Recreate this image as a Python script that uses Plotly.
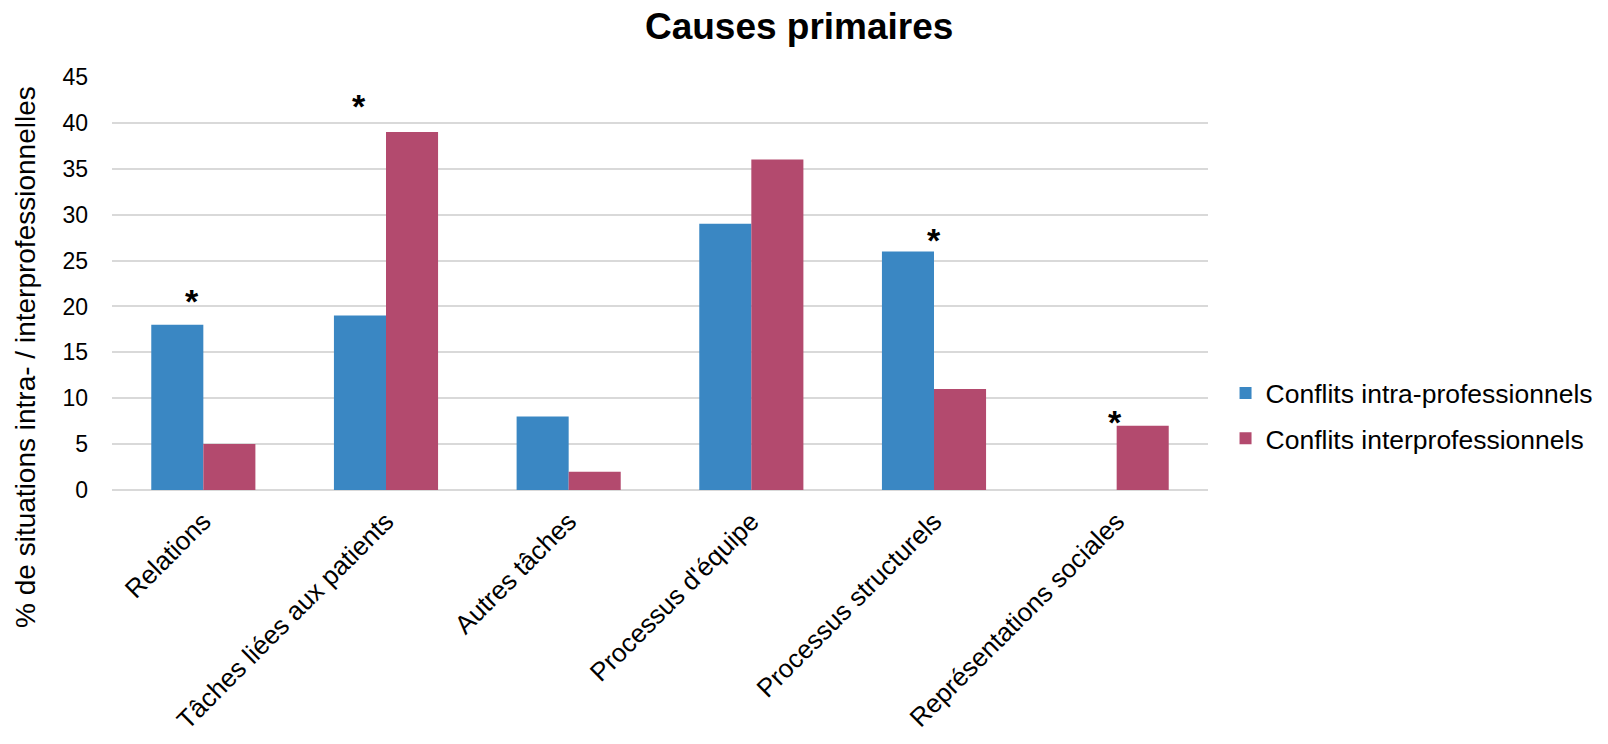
import plotly.graph_objects as go

categories = [
    "Relations",
    "Tâches liées aux patients",
    "Autres tâches",
    "Processus d'équipe",
    "Processus structurels",
    "Représentations sociales",
]
intra = [18, 19, 8, 29, 26, 0]
inter = [5, 39, 2, 36, 11, 7]

# significance markers: category, height (axis units), horizontal nudge (px)
star_cats = ["Relations", "Tâches liées aux patients", "Processus structurels", "Représentations sociales"]
star_y = [21.5, 42.7, 28.1, 8.3]
star_shift = [-11, -27, 0, -2]

y_ticks = [0, 5, 10, 15, 20, 25, 30, 35, 40, 45]

FONT = "Liberation Sans, Arial, sans-serif"
BLUE = "#3a87c3"
MAGENTA = "#b34a6e"

fig = go.Figure()
fig.add_trace(go.Bar(
    x=categories, y=intra, name="Conflits intra-professionnels",
    legendgroup="intra",
    marker=dict(color=BLUE, line=dict(width=0)),
))
fig.add_trace(go.Bar(
    x=categories, y=inter, name="Conflits interprofessionnels",
    legendgroup="inter",
    marker=dict(color=MAGENTA, line=dict(width=0)),
))

for c, yv, dx in zip(star_cats, star_y, star_shift):
    fig.add_annotation(
        x=c, y=yv, text="<b>*</b>", showarrow=False, xshift=dx, yshift=-8,
        font=dict(family=FONT, size=34, color="#000000"),
        xanchor="center", yanchor="middle",
    )

# vertical axis caption
fig.add_annotation(
    xref="paper", yref="paper", x=-0.0795, y=0.322,
    text="% de situations intra- / interprofessionnelles",
    textangle=-90, showarrow=False, xanchor="center", yanchor="middle",
    font=dict(family=FONT, size=28, color="#000000"),
)

fig.update_layout(
    width=1608, height=744,
    paper_bgcolor="white", plot_bgcolor="white",
    margin=dict(l=112, r=400, t=77, b=254, autoexpand=False),
    barmode="group", bargap=0.43, bargroupgap=0,
    font=dict(family=FONT, size=23, color="#000000"),
    title=dict(
        text="<b>Causes primaires</b>", x=0.497, xref="container", xanchor="center",
        y=0.965, yref="container", yanchor="middle",
        font=dict(family=FONT, size=37, color="#000000"),
    ),
    legend=dict(
        x=1.016, xanchor="left", y=0.18, yanchor="middle",
        font=dict(family=FONT, size=26.5, color="#000000"),
        bgcolor="rgba(0,0,0,0)", itemwidth=30, tracegroupgap=8,
    ),
    showlegend=True,
)

fig.update_xaxes(
    range=[-0.5, 5.5], tickangle=-45, showgrid=False, showline=False,
    ticks="", ticklabelstandoff=10,
    tickfont=dict(family=FONT, size=26, color="#000000"),
)
fig.update_yaxes(
    range=[0, 45], tickvals=y_ticks, showgrid=True, gridcolor="#d9d9d9", gridwidth=1.5,
    zeroline=True, zerolinecolor="#d9d9d9", zerolinewidth=1.5, showline=False,
    ticks="", ticklabelstandoff=23,
    tickfont=dict(family=FONT, size=23, color="#000000"),
)

fig.write_html("out.html")
